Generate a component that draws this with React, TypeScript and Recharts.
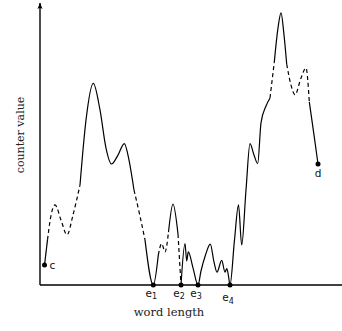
import { ComposedChart, Line, Scatter, XAxis, YAxis, ReferenceLine } from "recharts";

// curve samples (word length -> counter value)
const wordLength = [
  0.45, 0.75, 1.05, 1.5, 2.1, 2.7, 3.3, 4.0, 4.6, 5.33, 6.0, 6.6, 7.15, 7.8, 8.43, 8.9,
  9.4, 10.0, 10.5, 11.33, 11.83, 12.17, 12.5, 12.85, 13.3, 13.8, 14.1, 14.5, 14.67, 14.83,
  15.3, 15.8, 16.1, 16.55, 17.03, 17.4, 17.7, 18.17, 18.5, 18.68, 18.85, 19.0, 19.45, 19.85,
  20.17, 20.6, 21.0, 21.4, 21.77, 22.1, 22.6, 23.0, 23.43, 23.8, 24.1, 24.4, 24.67, 25.1,
  25.5, 26.1, 26.6, 26.93, 27.4, 27.8,
];
const counterValue = [
  0.71, 1.61, 2.39, 2.86, 2.32, 1.79, 2.5, 3.57, 5.89, 7.2, 6.25, 4.89, 4.32, 4.64, 5.05, 4.46,
  3.39, 2.46, 1.61, 0, 1.07, 1.48, 1.18, 1.89, 2.89, 1.82, 0, 1.48, 0.86, 1.18,
  0.61, 0, 0.5, 1.07, 1.46, 0.82, 0.46, 0.88, 0.46, 0.59, 0.32, 0, 1.61, 2.86,
  1.43, 3.39, 5.05, 4.64, 4.34, 5.79, 6.39, 6.68, 7.96, 9.18, 9.72, 8.93, 7.89, 7.14,
  6.79, 7.39, 7.75, 6.54, 5.36, 4.32,
];
// indices where the line switches between solid and dashed (starts solid)
const styleBreaks = [1, 7, 16, 18, 20, 23, 25, 26, 51, 52, 56, 61];
const markIndex = [0, 19, 26, 31, 41, 63];
const markNames = ["c", "e", "e", "e", "e", "d"];
const markSubs = ["", "1", "2", "3", "4", ""];

const Y_MAX = 10.07;
const X_MAX = 30.2;

const points = wordLength.map((x, i) => ({ x, y: counterValue[i] }));
const bounds = [0, ...styleBreaks, points.length - 1];
const segments = bounds.slice(0, -1).map((b, k) => ({
  data: points.slice(b, bounds[k + 1] + 1),
  dashed: k % 2 === 1,
}));
const marks = markIndex.map((i, k) => ({ ...points[i], name: markNames[k], sub: markSubs[k] }));

const MarkShape = (props: any) => {
  const { cx, cy, payload } = props;
  let dx = 0, dy = 11.5, anchor = "middle";
  if (payload.name === "c") { dx = 5; dy = 4; anchor = "start"; }
  if (payload.name === "d") dy = 13;
  if (payload.sub === "4") dy = 16;
  return (
    <g>
      <circle cx={cx} cy={cy} r={2.5} fill="#000" />
      <text
        x={cx + dx - (payload.sub ? 2 : 0)}
        y={cy + dy}
        textAnchor={payload.sub ? "middle" : (anchor as any)}
        fontFamily="DejaVu Sans"
        fontSize={10.5}
        fill="#111"
      >
        {payload.name}
        {payload.sub && (
          <tspan fontSize={8} dy={2.5}>
            {payload.sub}
          </tspan>
        )}
      </text>
    </g>
  );
};

const ArrowHead = (props: any) => {
  const { cx, cy } = props;
  return (
    <path
      d={`M${cx},${cy} L${cx + 2.6},${cy + 6} Q${cx},${cy + 4} ${cx - 2.6},${cy + 6} Z`}
      fill="#000"
    />
  );
};

export default function App() {
  return (
    <div style={{ position: "absolute", left: 0, top: 0, width: 342, height: 331, background: "#fff" }}>
      <ComposedChart width={342} height={331} margin={{ top: 3, right: 0, left: 40, bottom: 46 }}>
        <XAxis type="number" dataKey="x" domain={[0, X_MAX]} hide />
        <YAxis type="number" dataKey="y" domain={[0, Y_MAX]} hide />
        <ReferenceLine y={0} stroke="#000" strokeWidth={1.4} />
        <ReferenceLine x={0} stroke="#000" strokeWidth={1.4} />
        {segments.map((s, i) => (
          <Line
            key={i}
            data={s.data}
            dataKey="y"
            type="monotone"
            stroke="#000"
            strokeWidth={1.2}
            strokeDasharray={s.dashed ? "4 3" : undefined}
            dot={false}
            activeDot={false}
            isAnimationActive={false}
          />
        ))}
        <Scatter data={[{ x: 0, y: Y_MAX }]} shape={ArrowHead} isAnimationActive={false} />
        <Scatter data={marks} shape={MarkShape} isAnimationActive={false} />
      </ComposedChart>
      <div
        style={{
          position: "absolute",
          left: 169,
          top: 305,
          transform: "translateX(-50%)",
          fontFamily: "DejaVu Serif",
          fontSize: 11.5,
          whiteSpace: "nowrap",
          color: "#222",
        }}
      >
        word length
      </div>
      <div
        style={{
          position: "absolute",
          left: 20,
          top: 135,
          transform: "translate(-50%, -50%) rotate(-90deg)",
          fontFamily: "DejaVu Serif",
          fontSize: 11,
          whiteSpace: "nowrap",
          color: "#222",
        }}
      >
        counter value
      </div>
    </div>
  );
}
